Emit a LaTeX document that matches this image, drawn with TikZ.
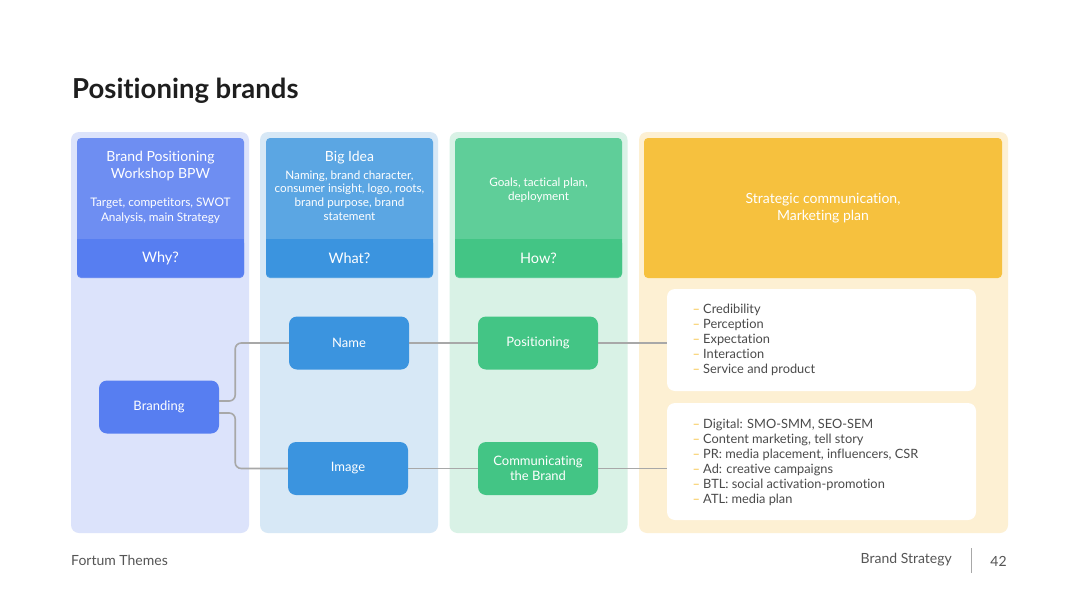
\documentclass[tikz,border=0pt]{standalone}
\usepackage{fontspec}
\setmainfont{Lato}[Ligatures=NoCommon]
\usepackage{xcolor}
\usepackage{tikz}
\usetikzlibrary{positioning}
\definecolor{whybg}{HTML}{DCE3FB}
\definecolor{whatbg}{HTML}{D7E8F6}
\definecolor{howbg}{HTML}{D9F2E6}
\definecolor{planbg}{HTML}{FDF0D3}
\definecolor{whytop}{HTML}{6E8EF2}
\definecolor{whydark}{HTML}{577EF1}
\definecolor{whattop}{HTML}{5BA6E3}
\definecolor{whatdark}{HTML}{3B94DF}
\definecolor{howtop}{HTML}{5FCE99}
\definecolor{howdark}{HTML}{43C585}
\definecolor{planyellow}{HTML}{F6C13E}
\definecolor{linkgray}{HTML}{A8A8A8}
\definecolor{titledark}{HTML}{1E1E1E}
\definecolor{listtext}{HTML}{4A4A4A}
\definecolor{footgray}{HTML}{555555}

\tikzset{
  colbg/.style={rounded corners=8pt, minimum width=178pt, minimum height=401pt, inner sep=0pt},
  headbox/.style={rounded corners=4pt, minimum width=167pt, minimum height=140pt, inner sep=0pt},
  headband/.style={rounded corners=4pt, minimum width=167pt, minimum height=38pt, inner sep=0pt,
                   text=white, font=\fontsize{14.5}{16}\selectfont},
  headtext/.style={text=white, align=center},
  stepnode/.style={rounded corners=8pt, minimum width=120pt, minimum height=53pt, inner sep=2pt,
                   text=white, align=center, font=\fontsize{13}{15}\selectfont},
  listbox/.style={fill=white, rounded corners=8pt, minimum width=309pt, inner sep=0pt},
  listtxt/.style={anchor=west, align=left, text=listtext, font=\fontsize{12.8}{15}\selectfont},
  link/.style={draw=linkgray, line width=1.6pt},
  foottext/.style={inner sep=0pt, text=footgray, font=\fontsize{14}{16}\selectfont}
}
\newcommand{\dashitem}[1]{\textcolor{planyellow}{–}\ #1}

\begin{document}
\begin{tikzpicture}[x=1pt, y=-1pt]
  \fill[white] (0,0) rectangle (1080,608);
  \useasboundingbox (0,0) rectangle (1080,608);

  % title
  \node[anchor=base west, inner sep=0pt, text=titledark,
        font=\fontsize{27.5}{32}\selectfont\bfseries] (title) at (72,98) {Positioning brands};

  % column backgrounds
  \node[colbg, fill=whybg] (whycol) at (160,332.5) {};
  \node[colbg, fill=whatbg] (whatcol) at (349,332.5) {};
  \node[colbg, fill=howbg] (howcol) at (538.5,332.5) {};
  \node[colbg, fill=planbg, minimum width=369pt] (plancol) at (823.5,332.5) {};

  % headers
  \node[headbox, fill=whytop] (whyhead) at (160.5,208) {};
  \node[headband, fill=whydark] (why) at (160.5,258) {Why?};
  \fill[whydark] (why.north west) rectangle ([yshift=-6pt]why.north east);
  \node[headtext, font=\fontsize{14}{17}\selectfont] (whytitle) at (160.5,166.5)
    {Brand Positioning\\Workshop BPW};
  \node[headtext, font=\fontsize{11.8}{15}\selectfont] (whysub) at (160.5,210.5)
    {Target, competitors, SWOT\\Analysis, main Strategy};

  \node[headbox, fill=whattop] (whathead) at (349.5,208) {};
  \node[headband, fill=whatdark] (what) at (349.5,258) {What?};
  \fill[whatdark] (what.north west) rectangle ([yshift=-6pt]what.north east);
  \node[headtext, font=\fontsize{14}{17}\selectfont] (whattitle) at (349.5,158) {Big Idea};
  \node[headtext, font=\fontsize{11.7}{13.7}\selectfont] (whatsub) at (349.5,195.5)
    {Naming, brand character,\\consumer insight, logo, roots,\\brand purpose, brand\\statement};

  \node[headbox, fill=howtop] (howhead) at (538.5,208) {};
  \node[headband, fill=howdark] (how) at (538.5,258) {How?};
  \fill[howdark] (how.north west) rectangle ([yshift=-6pt]how.north east);
  \node[headtext, font=\fontsize{11.7}{14}\selectfont] (howsub) at (538.5,190)
    {Goals, tactical plan,\\deployment};

  \node[headbox, fill=planyellow, minimum width=358pt] (planhead) at (823,208)
    {};
  \node[headtext, font=\fontsize{14}{17}\selectfont] (plantitle) at (823,208)
    {Strategic communication,\\Marketing plan};

  % steps
  \node[stepnode, fill=whydark] (branding) at (159,407) {Branding};
  \node[stepnode, fill=whatdark] (name) at (349,343) {Name};
  \node[stepnode, fill=whatdark] (image) at (348,468.5) {Image};
  \node[stepnode, fill=howdark] (positioning) at (538,343) {Positioning};
  \node[stepnode, fill=howdark] (communicating) at (538,468.5) {Communicating\\the Brand};

  % lists
  \node[listbox, minimum height=102pt] (perception) at (821.5,340) {};
  \node[listtxt] (perceptiontxt) at (689,340)
    {\dashitem{Credibility}\\\dashitem{Perception}\\\dashitem{Expectation}\\
     \dashitem{Interaction}\\\dashitem{Service and product}};
  \node[listbox, minimum height=117pt] (channels) at (821.5,461.5) {};
  \node[listtxt] (channelstxt) at (689,462)
    {\dashitem{Digital: SMO-SMM, SEO-SEM}\\\dashitem{Content marketing, tell story}\\
     \dashitem{PR: media placement, influencers, CSR}\\\dashitem{Ad: creative campaigns}\\
     \dashitem{BTL: social activation-promotion}\\\dashitem{ATL: media plan}};

  % links
  \draw[link, rounded corners=6pt] ([yshift=6pt]branding.east) -- ++(16,0) |- (name.west);
  \draw[link, rounded corners=6pt] ([yshift=-6pt]branding.east) -- ++(16,0) |- (image.west);
  \draw[link] (name.east) -- (positioning.west);
  \draw[link] (image.east) -- (communicating.west);
  \draw[link] (positioning.east) -- (positioning.east -| perception.west);
  \draw[link] (communicating.east) -- (communicating.east -| channels.west);

  % footer
  \node[foottext, anchor=west] (footleft) at (71,560) {Fortum Themes};
  \node[foottext, anchor=east] (footright) at (952,560) {Brand Strategy};
  \draw[linkgray, line width=1pt] (971,548) -- (971,573);
  \node[foottext] (pagenum) at (998.5,561) {42};
\end{tikzpicture}
\end{document}
